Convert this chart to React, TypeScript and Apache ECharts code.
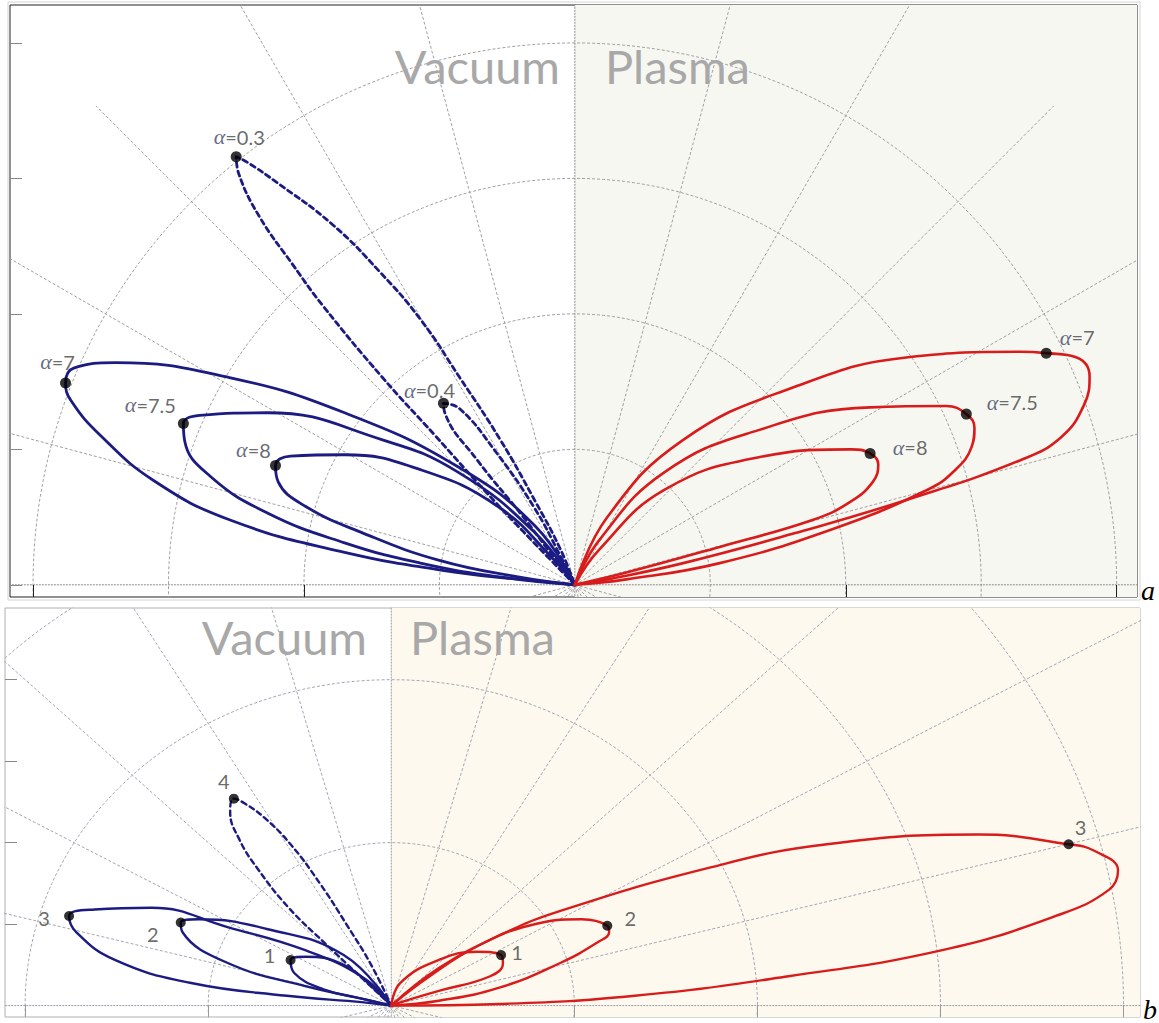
import React, { useEffect, useRef } from 'react';
import * as echarts from 'echarts';

// ---------- Panel a : lobes (polar-plot units, x = r cos θ, y = r sin θ) ----------
const vacA_alpha7 = [[0,0],[-0.29,0.03],[-0.86,0.09],[-1.70,0.24],[-2.55,0.48],[-3.11,0.77],[-3.50,1.10],[-3.72,1.36],[-3.76,1.49],[-3.70,1.60],[-3.39,1.64],[-2.55,1.53],[-1.70,1.27],[-0.86,0.87],[-0.29,0.43],[0,0]];
const vacA_alpha75 = [[0,0],[-0.57,0.06],[-1.14,0.16],[-1.70,0.31],[-2.27,0.53],[-2.69,0.80],[-2.88,1.06],[-2.89,1.19],[-2.77,1.25],[-2.27,1.27],[-1.42,1.07],[-0.86,0.83],[-0.29,0.38],[0,0]];
const vacA_alpha8 = [[0,0],[-0.43,0.06],[-1.00,0.18],[-1.56,0.38],[-1.99,0.58],[-2.19,0.76],[-2.21,0.88],[-2.10,0.95],[-1.70,0.96],[-1.14,0.85],[-0.57,0.58],[-0.15,0.18],[0,0]];
const vacA_alpha03 = [[0,0],[-0.31,0.32],[-0.67,0.70],[-1.03,1.10],[-1.42,1.53],[-1.86,2.06],[-2.08,2.36],[-2.33,2.72],[-2.48,3.03],[-2.50,3.16],[-2.42,3.12],[-2.20,2.97],[-1.79,2.66],[-1.44,2.31],[-1.14,1.96],[-0.85,1.53],[-0.55,1.07],[-0.30,0.63],[-0.11,0.27],[0,0]];
const vacA_alpha04 = [[0,0],[-0.14,0.18],[-0.38,0.50],[-0.72,0.92],[-0.96,1.27],[-0.97,1.34],[-0.85,1.30],[-0.59,0.99],[-0.30,0.57],[-0.10,0.20],[0,0]];
const plA_alpha7 = [[0,0],[0.24,0.04],[0.80,0.16],[1.62,0.38],[2.46,0.63],[3.29,0.92],[3.59,1.09],[3.76,1.33],[3.80,1.54],[3.70,1.68],[3.48,1.71],[3.29,1.72],[2.46,1.68],[1.62,1.46],[0.80,1.07],[0.24,0.50],[0,0]];
const plA_alpha75 = [[0,0],[0.38,0.04],[1.07,0.16],[1.90,0.41],[2.60,0.70],[2.80,0.84],[2.93,1.02],[2.95,1.16],[2.89,1.26],[2.74,1.32],[2.18,1.31],[1.35,1.14],[0.66,0.83],[0.18,0.33],[0,0]];
const plA_alpha8 = [[0,0],[0.38,0.09],[1.07,0.28],[1.76,0.48],[2.03,0.61],[2.20,0.76],[2.24,0.89],[2.18,0.97],[2.04,1.00],[1.35,0.94],[0.66,0.70],[0.18,0.26],[0,0]];

const dotsVacA = [[-2.50,3.16],[-0.97,1.34],[-3.76,1.49],[-2.89,1.19],[-2.21,0.88]];
const dotLabelsVacA = ['0.3','0.4','7','7.5','8'];
const dotsPlA = [[3.48,1.71],[2.89,1.26],[2.18,0.97]];
const dotLabelsPlA = ['7','7.5','8'];

// ---------- Panel b ----------
const vacB_3 = [[0,0],[-0.15,0.02],[-0.57,0.06],[-1.10,0.14],[-1.51,0.28],[-1.72,0.45],[-1.76,0.55],[-1.62,0.59],[-1.31,0.60],[-0.89,0.48],[-0.47,0.34],[-0.15,0.17],[0,0]];
const vacB_2 = [[0,0],[-0.15,0.04],[-0.47,0.12],[-0.89,0.26],[-1.14,0.45],[-1.15,0.51],[-1.05,0.53],[-0.68,0.47],[-0.26,0.31],[0,0]];
const vacB_1 = [[0,0],[-0.15,0.04],[-0.37,0.10],[-0.53,0.20],[-0.55,0.28],[-0.47,0.30],[-0.26,0.25],[-0.09,0.10],[0,0]];
const vacB_4 = [[0,0],[-0.18,0.19],[-0.36,0.38],[-0.56,0.60],[-0.73,0.84],[-0.83,1.02],[-0.88,1.19],[-0.86,1.27],[-0.80,1.24],[-0.69,1.15],[-0.55,0.99],[-0.39,0.75],[-0.24,0.49],[-0.11,0.25],[0,0]];
const plB_1 = [[0,0],[0.05,0.02],[0.26,0.09],[0.54,0.18],[0.61,0.26],[0.60,0.31],[0.47,0.33],[0.26,0.28],[0.05,0.14],[0,0]];
const plB_2 = [[0,0],[0.26,0.03],[0.59,0.11],[0.92,0.26],[1.13,0.39],[1.19,0.45],[1.18,0.49],[1.04,0.53],[0.75,0.49],[0.48,0.37],[0.21,0.18],[0,0]];
const plB_3 = [[0,0],[0.59,0.01],[1.33,0.06],[2.17,0.18],[3.01,0.34],[3.63,0.55],[3.92,0.71],[3.97,0.83],[3.84,0.95],[3.70,0.99],[3.21,1.05],[2.38,0.99],[1.75,0.85],[0.92,0.58],[0.59,0.43],[0.26,0.23],[0,0]];

const dotsVacB = [[-1.76,0.55],[-1.15,0.51],[-0.55,0.28],[-0.86,1.27]];
const dotLabelsVacB = ['3','2','1','4'];
const dotsPlB = [[0.60,0.31],[1.18,0.49],[3.70,0.99]];
const dotLabelsPlB = ['1','2','3'];

// ---------- Axes / polar grid ----------
const ringRadii = [1, 2, 3, 4];
const spokeAnglesDeg = [0,15,30,45,60,75,90,105,120,135,150,165,180,195,210,225,240,255,270,285,300,315,330,345];
const spokeLength = 5;
const rangeA = [-4.17, 4.15, -0.09, 4.28];
const rangeB = [-2.11, 4.09, -0.07, 2.44];
const xTicksA = [-4, -2, 2, 4];
const yTicksA = [0, 1, 2, 3, 4];
const xTicksB = [-2, -1, 1, 2, 3, 4];
const yTicksB = [0.5, 1, 1.5, 2];

// label offsets (style, pixels)
const offVacA = [[3,-20],[-14,-13],[-8,-21],[-33,-19],[-22,-16]];
const offPlA = [[31,-16],[46,-12],[40,-6]];
const offVacB = [[-25,2],[-28,12],[-21,-5],[-10,-18]];
const offPlB = [[16,-3],[23,-8],[12,-17]];

const BLUE = '#1b1b82';
const RED = '#d81c1c';

function ringPoints(r: number) {
  const pts: number[][] = [];
  for (let d = -20; d <= 200; d += 1) {
    const t = (d * Math.PI) / 180;
    pts.push([r * Math.cos(t), r * Math.sin(t)]);
  }
  return pts;
}

function gridSeries(p: number, color: string, axisColor: string, bg: string, range: number[]) {
  const s: any[] = [];
  ringRadii.forEach((r, i) => {
    s.push({
      type: 'line', xAxisIndex: p, yAxisIndex: p, data: ringPoints(r), symbol: 'none', silent: true, z: 1,
      lineStyle: { color, width: 1, type: [3, 2] },
      markArea: i === 0 ? {
        silent: true, itemStyle: { color: bg },
        data: [[{ xAxis: 0, yAxis: range[2] }, { xAxis: range[1], yAxis: range[3] }]],
      } : undefined,
    });
  });
  spokeAnglesDeg.forEach((a) => {
    const t = (a * Math.PI) / 180;
    const main = a % 90 === 0;
    s.push({
      type: 'line', xAxisIndex: p, yAxisIndex: p, symbol: 'none', silent: true, z: main ? 2 : 1,
      data: [[0, 0], [spokeLength * Math.cos(t), spokeLength * Math.sin(t)]],
      lineStyle: { color: main ? axisColor : color, width: 1, type: main ? [2, 1] : [3, 2] },
    });
  });
  return s;
}

function lobe(p: number, data: number[][], color: string, width: number, dashed: boolean) {
  return {
    type: 'line', xAxisIndex: p, yAxisIndex: p, data, symbol: 'none', smooth: 0.45, silent: true, z: 3,
    lineStyle: { color, width, type: dashed ? [5, 4] : 'solid', cap: 'round', join: 'round' },
  };
}

function dots(p: number, pts: number[][], labels: string[], offs: number[][], alpha: boolean, size: number) {
  return {
    type: 'scatter', xAxisIndex: p, yAxisIndex: p, symbolSize: size, z: 5, silent: true,
    itemStyle: { color: '#000' },
    data: pts.map((v, i) => ({
      value: v,
      label: {
        show: true, position: 'inside', offset: offs[i],
        formatter: alpha ? `{a|α}{b|=${labels[i]}}` : `{b|${labels[i]}}`,
        rich: {
          a: { fontFamily: 'Liberation Serif', fontStyle: 'italic', fontSize: 22, color: '#3c4466' },
          b: { fontFamily: 'Lato', fontSize: 20, color: '#444' },
        },
      },
    })),
  };
}

function axes(p: number, range: number[], xt: number[], yt: number[], xTickColor: string) {
  const x = {
    type: 'value', gridIndex: p, min: range[0], max: range[1], position: 'bottom', z: 10,
    axisLine: { show: false, onZero: false }, splitLine: { show: false }, axisLabel: { show: false },
    axisTick: { show: true, inside: true, length: 12, customValues: xt, lineStyle: { color: xTickColor, width: 1 } },
  };
  const y = {
    type: 'value', gridIndex: p, min: range[2], max: range[3], position: 'left', z: 10,
    axisLine: { show: false, onZero: false }, splitLine: { show: false }, axisLabel: { show: false },
    axisTick: { show: true, inside: true, length: 12, customValues: yt, lineStyle: { color: '#888', width: 1 } },
  };
  return { x, y };
}

export default function App() {
  const ref = useRef<HTMLDivElement>(null);
  useEffect(() => {
    if (!ref.current) return;
    const chart = echarts.init(ref.current, undefined, { renderer: 'svg' });
    const aA = axes(0, rangeA, xTicksA, yTicksA, '#222');
    const aB = axes(1, rangeB, xTicksB, yTicksB, '#999');
    const titleFont = { fontFamily: 'Lato', fontSize: 47, fill: '#a8a8a8' };
    chart.setOption({
      animation: false,
      backgroundColor: '#ffffff',
      grid: [
        { left: 10, top: 5, width: 1127, height: 592, show: true, borderColor: '#222', borderWidth: 1, backgroundColor: 'transparent' },
        { left: 5, top: 608, width: 1135, height: 409, show: true, borderColor: '#b0b0b0', borderWidth: 1, backgroundColor: 'transparent' },
      ],
      xAxis: [aA.x, aB.x],
      yAxis: [aA.y, aB.y],
      graphic: [
        { type: 'rect', shape: { x: 8, y: 2, width: 1132, height: 598 }, style: { fill: 'none', stroke: '#d4d4d4', lineWidth: 1 }, z: 0, silent: true },
        { type: 'text', x: 560, y: 66, style: { ...titleFont, text: 'Vacuum', textAlign: 'right', textVerticalAlign: 'middle' }, z: 10 },
        { type: 'text', x: 605, y: 66, style: { ...titleFont, text: 'Plasma', textAlign: 'left', textVerticalAlign: 'middle' }, z: 10 },
        { type: 'text', x: 367, y: 637, style: { ...titleFont, text: 'Vacuum', textAlign: 'right', textVerticalAlign: 'middle' }, z: 10 },
        { type: 'text', x: 410, y: 637, style: { ...titleFont, text: 'Plasma', textAlign: 'left', textVerticalAlign: 'middle' }, z: 10 },
        { type: 'text', x: 1148, y: 590, style: { text: 'a', fontFamily: 'Liberation Serif', fontStyle: 'italic', fontSize: 28, fill: '#000', textAlign: 'center', textVerticalAlign: 'middle' }, z: 10 },
        { type: 'text', x: 1150, y: 1009, style: { text: 'b', fontFamily: 'Liberation Serif', fontStyle: 'italic', fontSize: 28, fill: '#000', textAlign: 'center', textVerticalAlign: 'middle' }, z: 10 },
      ],
      series: [
        ...gridSeries(0, '#a0a0a0', '#8a8a8a', '#f7f7f2', rangeA),
        ...gridSeries(1, '#a3a6b4', '#9a9da8', '#fdf9ee', rangeB),
        lobe(0, vacA_alpha7, BLUE, 2.8, false),
        lobe(0, vacA_alpha75, BLUE, 2.8, false),
        lobe(0, vacA_alpha8, BLUE, 2.8, false),
        lobe(0, vacA_alpha03, BLUE, 2.8, true),
        lobe(0, vacA_alpha04, BLUE, 2.8, true),
        lobe(0, plA_alpha7, RED, 2.6, false),
        lobe(0, plA_alpha75, RED, 2.6, false),
        lobe(0, plA_alpha8, RED, 2.6, false),
        lobe(1, vacB_3, BLUE, 2.4, false),
        lobe(1, vacB_2, BLUE, 2.4, false),
        lobe(1, vacB_1, BLUE, 2.4, false),
        lobe(1, vacB_4, BLUE, 2.4, true),
        lobe(1, plB_1, RED, 2.4, false),
        lobe(1, plB_2, RED, 2.4, false),
        lobe(1, plB_3, RED, 2.4, false),
        dots(0, dotsVacA, dotLabelsVacA, offVacA, true, 11),
        dots(0, dotsPlA, dotLabelsPlA, offPlA, true, 11),
        dots(1, dotsVacB, dotLabelsVacB, offVacB, false, 10),
        dots(1, dotsPlB, dotLabelsPlB, offPlB, false, 10),
      ],
    });
    return () => chart.dispose();
  }, []);
  return <div ref={ref} style={{ position: 'absolute', left: 0, top: 0, width: 1159, height: 1023 }} />;
}
